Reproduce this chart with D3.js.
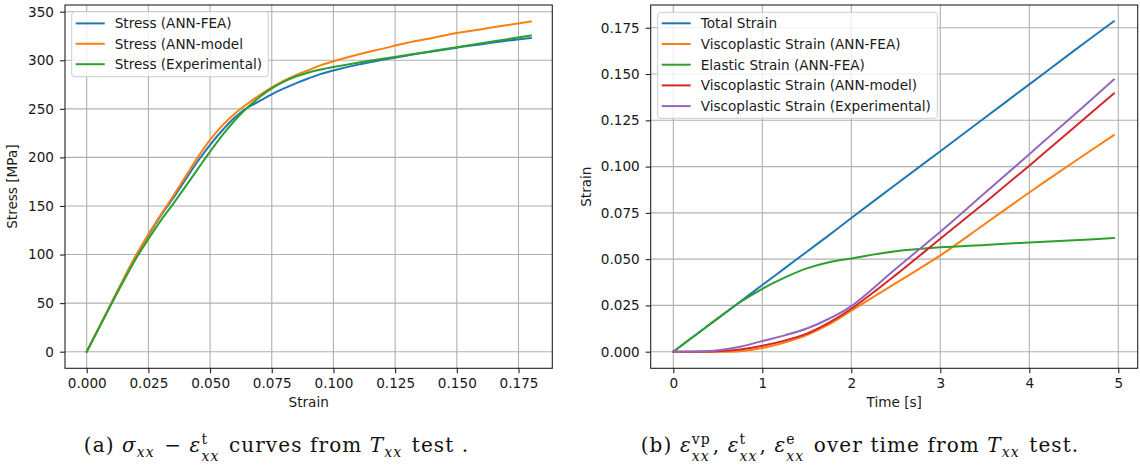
<!DOCTYPE html>
<html>
<head>
<meta charset="utf-8">
<script src="https://cdn.jsdelivr.net/npm/d3@7"></script>
<style>
  html, body { margin: 0; padding: 0; background: #fff; }
  svg { display: block; }
</style>
</head>
<body>
<svg id="fig" width="1140" height="466"></svg>
<script>
// ---- (a) stress–strain curves ----
const strainA = [0, 0.005, 0.01, 0.015, 0.02, 0.025, 0.03, 0.035, 0.04, 0.045, 0.05, 0.055, 0.06, 0.065, 0.07, 0.075, 0.08, 0.085, 0.09, 0.095, 0.1, 0.11, 0.12, 0.13, 0.14, 0.15, 0.16, 0.17, 0.18];
const stressFEA = [0, 25, 50, 75, 99, 120, 140, 158, 177, 196, 213, 228, 241, 251, 258, 265, 271, 276.5, 281.5, 286, 289.5, 295.5, 300.5, 305, 309, 313, 316.5, 320, 323];
const stressModel = [0, 25, 50, 75, 99, 121, 141, 160, 180, 200, 218, 233, 245, 255, 264, 272, 279, 285, 290, 295, 299, 306, 312, 318, 323, 328, 332, 336, 340];
const stressExp = [0, 24.5, 49, 73, 96, 116, 135, 152, 170, 188, 206, 223, 238, 251, 262, 271, 278, 283.5, 287.5, 290.5, 293, 297.5, 301.5, 305.5, 309.5, 313.5, 317.5, 321.5, 325.5];
const seriesA = ["Stress (ANN-FEA)", "Stress (ANN-model", "Stress (Experimental)"];
const ticksAx = [0, 0.025, 0.05, 0.075, 0.1, 0.125, 0.15, 0.175];
const ticksAy = [0, 50, 100, 150, 200, 250, 300, 350];

// ---- (b) strain components over time ----
const timeB = [0, 0.25, 0.5, 0.75, 1, 1.25, 1.5, 1.75, 2, 2.5, 3, 3.5, 4, 4.5, 4.95];
const totalStrain = [0, 0.009, 0.018, 0.027, 0.036, 0.045, 0.054, 0.063, 0.0722, 0.0903, 0.1083, 0.1264, 0.1444, 0.1625, 0.1785];
const vpFEA = [0, 0, 0, 0.0003, 0.002, 0.005, 0.009, 0.0147, 0.0222, 0.037, 0.052, 0.069, 0.086, 0.1025, 0.117];
const elasticFEA = [0, 0.009, 0.018, 0.0267, 0.034, 0.040, 0.045, 0.0483, 0.0504, 0.0543, 0.0564, 0.0577, 0.059, 0.0602, 0.0614];
const vpModel = [0, 0, 0.0003, 0.0012, 0.0032, 0.006, 0.0098, 0.0157, 0.0232, 0.0415, 0.061, 0.0805, 0.1005, 0.121, 0.1395];
const vpExp = [0, 0.0001, 0.0008, 0.0027, 0.0058, 0.0088, 0.0125, 0.0178, 0.0246, 0.0448, 0.0648, 0.0857, 0.1067, 0.1278, 0.147];
const seriesB = ["Total Strain", "Viscoplastic Strain (ANN-FEA)", "Elastic Strain (ANN-FEA)", "Viscoplastic Strain (ANN-model)", "Viscoplastic Strain (Experimental)"];
const ticksBx = [0, 1, 2, 3, 4, 5];
const ticksBy = [0, 0.025, 0.05, 0.075, 0.1, 0.125, 0.15, 0.175];

const palette = ["#1f77b4", "#ff7f0e", "#2ca02c", "#d62728", "#9467bd"];
const FONT = "'DejaVu Sans', sans-serif";
const FS = 13.6;
const TEXT = "#1a1a1a";

const svg = d3.select("#fig");

function panel(opts) {
  const { left, right, top, bottom, x, y, xTicks, yTicks, xFmt, yFmt, xLabel, yLabel, yLabelX, series, legend } = opts;
  const g = svg.append("g");

  // grid
  g.append("g").selectAll("line").data(xTicks).join("line")
    .attr("x1", d => x(d)).attr("x2", d => x(d))
    .attr("y1", top).attr("y2", bottom)
    .attr("stroke", "#b0b0b0").attr("stroke-width", 1.1);
  g.append("g").selectAll("line").data(yTicks).join("line")
    .attr("x1", left).attr("x2", right)
    .attr("y1", d => y(d)).attr("y2", d => y(d))
    .attr("stroke", "#b0b0b0").attr("stroke-width", 1.1);

  // curves
  const line = d3.line().curve(d3.curveCatmullRom.alpha(0.5)).x(d => x(d[0])).y(d => y(d[1]));
  g.append("g").selectAll("path").data(series).join("path")
    .attr("d", s => line(s.xs.map((v, i) => [v, s.ys[i]])))
    .attr("fill", "none")
    .attr("stroke", s => s.color)
    .attr("stroke-width", 2)
    .attr("stroke-linejoin", "round")
    .attr("stroke-linecap", "square");

  // axes
  const xAxis = d3.axisBottom(x).tickValues(xTicks).tickFormat(d3.format(xFmt)).tickSize(5).tickPadding(5);
  const yAxis = d3.axisLeft(y).tickValues(yTicks).tickFormat(d3.format(yFmt)).tickSize(5).tickPadding(6);
  const gx = g.append("g").attr("transform", `translate(0,${bottom})`).call(xAxis);
  const gy = g.append("g").attr("transform", `translate(${left},0)`).call(yAxis);
  [gx, gy].forEach(a => {
    a.select(".domain").remove();
    a.selectAll(".tick line").attr("stroke", "#222").attr("stroke-width", 1.1);
    a.selectAll(".tick text").attr("font-size", FS).attr("fill", TEXT).attr("font-family", FONT);
  });

  // frame
  g.append("rect").attr("x", left).attr("y", top)
    .attr("width", right - left).attr("height", bottom - top)
    .attr("fill", "none").attr("stroke", "#222").attr("stroke-width", 1.1);

  // axis labels
  g.append("text").attr("x", (left + right) / 2).attr("y", 407)
    .attr("text-anchor", "middle").attr("font-family", FONT).attr("font-size", FS).attr("fill", TEXT)
    .text(xLabel);
  g.append("text").attr("transform", `translate(${yLabelX},${(top + bottom) / 2}) rotate(-90)`)
    .attr("text-anchor", "middle").attr("font-family", FONT).attr("font-size", FS).attr("fill", TEXT)
    .text(yLabel);

  // legend
  const lg = g.append("g");
  lg.append("rect").attr("x", legend.x).attr("y", legend.y)
    .attr("width", legend.w).attr("height", legend.h).attr("rx", 3)
    .attr("fill", "#fff").attr("fill-opacity", 0.8)
    .attr("stroke", "#cccccc").attr("stroke-width", 1);
  const rows = lg.selectAll("g").data(series).join("g")
    .attr("transform", (d, i) => `translate(${legend.x},${legend.y + legend.first + i * legend.step})`);
  rows.append("line").attr("x1", 4).attr("x2", 33).attr("y1", 0).attr("y2", 0)
    .attr("stroke", d => d.color).attr("stroke-width", 2);
  rows.append("text").attr("x", 43).attr("y", 0).attr("dy", "0.36em")
    .attr("font-family", FONT).attr("font-size", FS).attr("fill", TEXT)
    .text(d => d.name);
}

// panel (a)
const ax = d3.scaleLinear().domain([-0.0088, 0.1887]).range([65, 552.3]);
const ay = d3.scaleLinear().domain([-17.1, 356.9]).range([368.3, 5]);
panel({
  left: 65, right: 552.3, top: 5, bottom: 368.3, x: ax, y: ay,
  xTicks: ticksAx, yTicks: ticksAy, xFmt: ".3f", yFmt: "d",
  xLabel: "Strain", yLabel: "Stress [MPa]", yLabelX: 17,
  series: [
    { name: seriesA[0], color: palette[0], xs: strainA, ys: stressFEA },
    { name: seriesA[1], color: palette[1], xs: strainA, ys: stressModel },
    { name: seriesA[2], color: palette[2], xs: strainA, ys: stressExp }
  ],
  legend: { x: 71.7, y: 11.7, w: 196.6, h: 65, first: 11.7, step: 20.4 }
});

// panel (b)
const bx = d3.scaleLinear().domain([-0.254, 5.218]).range([650.7, 1137.7]);
const by = d3.scaleLinear().domain([-0.00897, 0.1873]).range([368.3, 5]);
panel({
  left: 650.7, right: 1137.7, top: 5, bottom: 368.3, x: bx, y: by,
  xTicks: ticksBx, yTicks: ticksBy, xFmt: "d", yFmt: ".3f",
  xLabel: "Time [s]", yLabel: "Strain", yLabelX: 591,
  series: [
    { name: seriesB[0], color: palette[0], xs: timeB, ys: totalStrain },
    { name: seriesB[1], color: palette[1], xs: timeB, ys: vpFEA },
    { name: seriesB[2], color: palette[2], xs: timeB, ys: elasticFEA },
    { name: seriesB[3], color: palette[3], xs: timeB, ys: vpModel },
    { name: seriesB[4], color: palette[4], xs: timeB, ys: vpExp }
  ],
  legend: { x: 657.7, y: 12.3, w: 279.6, h: 106, first: 11, step: 20.7 }
});

// ---- captions: plain words plus math atoms (italic base, optional sup/sub) ----
const SERIF = "'DejaVu Serif', 'Liberation Serif', serif";
const CFS = 20;
const SMALL = CFS * 0.7;
const TRACK = 1.1;
const SUP = -8;        // superscript shift
const SUB_STACK = 9;   // subscript shift under a superscript
const SUB_ONLY = 5;    // subscript shift on its own

function caption(cx, baseline, pieces) {
  const g = svg.append("g");
  let xPos = 0;
  pieces.forEach(p => {
    const t = g.append("text")
      .attr("x", xPos).attr("y", baseline)
      .attr("font-family", SERIF).attr("font-size", CFS)
      .attr("letter-spacing", TRACK)
      .attr("fill", "#111")
      .attr("xml:space", "preserve");
    if (typeof p === "string") {
      t.text(p);
      xPos += t.node().getComputedTextLength();
      return;
    }
    const base = t.append("tspan").attr("font-style", "italic").text(p.base);
    const bw = base.node().getComputedTextLength();
    let sw = 0;
    let dyNow = 0;
    if (p.sup) {
      const s = t.append("tspan").attr("x", xPos + bw).attr("dy", SUP)
        .attr("font-size", SMALL).text(p.sup);
      sw = Math.max(sw, s.node().getComputedTextLength());
      dyNow = SUP;
    }
    if (p.sub) {
      const shift = p.sup ? SUB_STACK : SUB_ONLY;
      const s = t.append("tspan").attr("x", xPos + bw).attr("dy", shift - dyNow)
        .attr("font-size", SMALL).attr("font-style", "italic").text(p.sub);
      sw = Math.max(sw, s.node().getComputedTextLength());
    }
    xPos += bw + sw + 2;
  });
  g.attr("transform", `translate(${cx - xPos / 2},0)`);
}

caption(276.5, 452, [
  "(a) ",
  { base: "σ", sub: "xx" },
  " − ",
  { base: "ε", sup: "t", sub: "xx" },
  " curves from ",
  { base: "T", sub: "xx" },
  " test ."
]);

caption(860, 452, [
  "(b) ",
  { base: "ε", sup: "vp", sub: "xx" },
  ", ",
  { base: "ε", sup: "t", sub: "xx" },
  ", ",
  { base: "ε", sup: "e", sub: "xx" },
  " over time from ",
  { base: "T", sub: "xx" },
  " test."
]);
</script>
</body>
</html>
